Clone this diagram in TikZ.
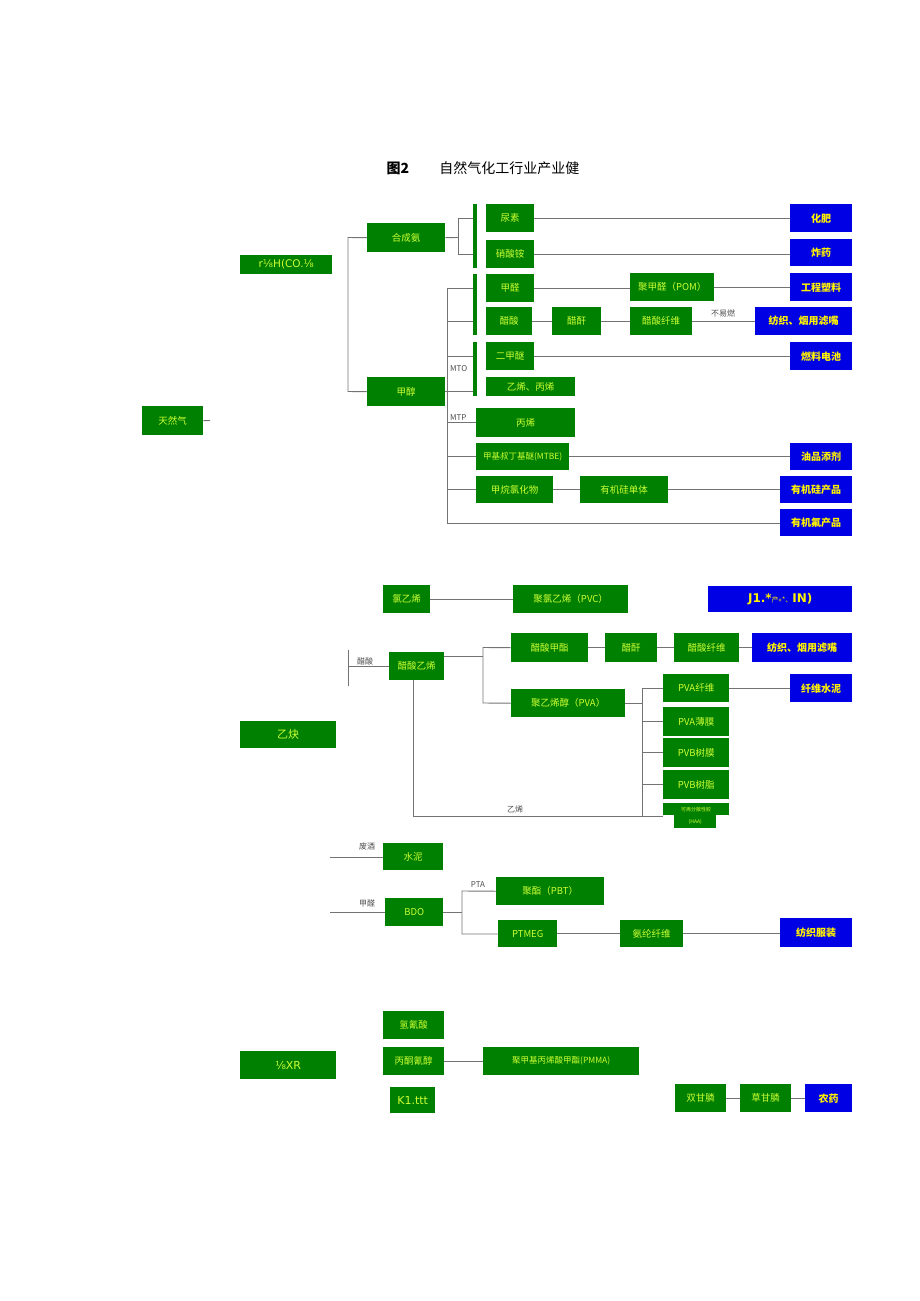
\documentclass[tikz,border=0pt]{standalone}
\usepackage{fontspec}
\setmainfont{Noto Sans CJK SC}
\newfontfamily\lat{DejaVu Sans}
\begin{document}
\begin{tikzpicture}[x=1pt,y=-1pt,
  g/.style={fill=green!50!black,draw=none,inner sep=0pt,text=green!25!yellow!80!white,font=\fontsize{9.5}{10}\selectfont},
  b/.style={fill=blue!90!black,draw=none,inner sep=0pt,text=yellow,font=\bfseries\fontsize{10}{10}\selectfont},
  ln/.style={draw=black!55,line width=0.9pt},
  lab/.style={inner sep=0pt,font=\fontsize{8}{8}\selectfont,text=black!70}]
\useasboundingbox (0,0) rectangle (920,1301);
\newcommand\bx[7]{\node[#1,minimum width={(#5-#3)*1pt},minimum height={(#6-#4)*1pt},anchor=north west] (#2) at (#3,#4) {#7};}
\node[font=\fontsize{14}{14}\selectfont] (title) at (483,168) {\textbf{图2}\hspace{30pt}自然气化工行业产业健};
% top section
\bx{g}{trq}{142}{406}{203}{435}{天然气}
\coordinate (trqe) at (210,420.5);
\draw[ln] (trq.east) -- (trqe);
\bx{g}{syn}{240}{255}{332}{274}{\lat\fontsize{10.5}{10}\selectfont r⅛H(CO.⅛}
\bx{g}{hca}{367}{223}{445}{252}{合成氨}
\bx{g}{jc}{367}{377}{445}{406}{甲醇}
\coordinate (v1a) at (348,237.5); \coordinate (v1b) at (348,391.5);
\draw[ln] (hca.west) -- (v1a) -- (v1b) -- (jc.west);
\bx{g}{bar1}{473}{204}{477}{268}{}
\bx{g}{bar2}{473}{274}{477}{335}{}
\bx{g}{bar3}{473}{342}{477}{396}{}
\bx{g}{ns}{486}{204}{534}{232}{尿素}
\bx{g}{xsa}{486}{240}{534}{268}{硝酸铵}
\coordinate (h1) at (458,237.5); \coordinate (h1a) at (458,218); \coordinate (h1b) at (458,254);
\draw[ln] (hca.east) -- (h1); \draw[ln] (h1a) -- (h1b);
\draw[ln] (h1a) -- (bar1.west|-h1a); \draw[ln] (h1b) -- (bar1.west|-h1b);
\bx{g}{jq}{486}{274}{534}{302}{甲醛}
\bx{g}{cs}{486}{307}{532}{335}{醋酸}
\bx{g}{cg}{552}{307}{601}{335}{醋酐}
\bx{g}{csx}{630}{307}{692}{335}{醋酸纤维}
\bx{g}{pom}{630}{273}{714}{301}{聚甲醛（POM）}
\bx{g}{emy}{486}{342}{534}{370}{二甲醚}
\bx{g}{yx}{486}{377}{575}{396}{乙烯、丙烯}
\bx{g}{bx}{476}{408}{575}{437}{丙烯}
\bx{g}{mtbe}{476}{443}{569}{470}{\fontsize{8.5}{9}\selectfont 甲基叔丁基醚(MTBE)}
\bx{g}{jwl}{476}{476}{553}{503}{甲烷氯化物}
\bx{g}{yjg}{580}{476}{668}{503}{有机硅单体}
\bx{b}{hf}{790}{204}{852}{232}{化肥}
\bx{b}{zy}{790}{239}{852}{266}{炸药}
\bx{b}{gcsl}{790}{273}{852}{301}{工程塑料}
\bx{b}{fz1}{755}{307}{852}{335}{纺织、烟用滤嘴}
\bx{b}{rldc}{790}{342}{852}{370}{燃料电池}
\bx{b}{ypt}{790}{443}{852}{470}{油品添剂}
\bx{b}{gcp}{780}{476}{852}{503}{有机硅产品}
\bx{b}{fcp}{780}{509}{852}{536}{有机氟产品}
\coordinate (v2a) at (447,288); \coordinate (v2b) at (447,523);
\draw[ln] (v2a) -- (v2b) -- (fcp.west|-v2b);
\draw[ln] (jc.east) -- (bar3.west|-jc.east);
\foreach \n in {jq,cs,emy}{\draw[ln] (v2a|-\n.west) -- (bar2.west|-\n.west);}
\draw[ln] (v2a|-bx.west) -- (bx.west);
\draw[ln] (v2a|-mtbe.west) -- (mtbe.west);
\draw[ln] (v2a|-jwl.west) -- (jwl.west);
\node[lab,anchor=west] (mto) at (450,369) {MTO};
\node[lab,anchor=west] (mtp) at (450,418) {MTP};
\draw[ln] (ns.east) -- (hf.west|-ns.east);
\draw[ln] (xsa.east) -- (zy.west|-xsa.east);
\draw[ln] (jq.east) -- (pom.west|-jq.east); \draw[ln] (pom.east) -- (gcsl.west|-pom.east);
\draw[ln] (cs.east) -- (cg.west); \draw[ln] (cg.east) -- (csx.west); \draw[ln] (csx.east) -- (fz1.west);
\node[lab] (bry) at (723,313) {不易燃};
\draw[ln] (emy.east) -- (rldc.west);
\draw[ln] (mtbe.east) -- (ypt.west|-mtbe.east);
\draw[ln] (jwl.east) -- (yjg.west); \draw[ln] (yjg.east) -- (gcp.west);
% middle section
\bx{g}{lyx}{383}{585}{430}{613}{氯乙烯}
\bx{g}{pvc}{513}{585}{628}{613}{聚氯乙烯（PVC）}
\bx{b}{j1}{708}{586}{852}{612}{\lat\bfseries\fontsize{12}{12}\selectfont J1.*\normalfont\fontsize{7}{7}\selectfont 产«*、\lat\bfseries\fontsize{12}{12}\selectfont IN)}
\draw[ln] (lyx.east) -- (pvc.west);
\bx{g}{cyx}{389}{652}{444}{680}{醋酸乙烯}
\coordinate (v3a) at (348,650); \coordinate (v3b) at (348,686);
\draw[ln] (v3a) -- (v3b); \draw[ln] (348,666) -- (cyx.west|-348,666);
\node[lab] (csl) at (365,661) {醋酸};
\bx{g}{csjz}{511}{633}{588}{662}{醋酸甲酯}
\bx{g}{cg2}{605}{633}{657}{662}{醋酐}
\bx{g}{csx2}{674}{633}{739}{662}{醋酸纤维}
\bx{b}{fz2}{752}{633}{852}{662}{纺织、烟用滤嘴}
\bx{g}{pva}{511}{689}{625}{717}{聚乙烯醇（PVA）}
\coordinate (v4a) at (483,647.5); \coordinate (v4b) at (483,703);
\draw[ln] (cyx.east|-483,656) -- (483,656);
\draw[ln] (csjz.west) -- (v4a) -- (v4b) -- (pva.west);
\draw[ln] (csjz.east) -- (cg2.west); \draw[ln] (cg2.east) -- (csx2.west); \draw[ln] (csx2.east) -- (fz2.west);
\bx{g}{pvax}{663}{674}{729}{702}{PVA纤维}
\bx{g}{pvab}{663}{707}{729}{736}{PVA薄膜}
\bx{g}{pvbm}{663}{738}{729}{767}{PVB树膜}
\bx{g}{pvbz}{663}{770}{729}{799}{PVB树脂}
\bx{g}{kz}{663}{803}{729}{815}{\fontsize{5}{5}\selectfont 可再分散性胶}
\bx{g}{kz2}{674}{815}{716}{828}{\fontsize{5}{5}\selectfont (HAA)}
\bx{b}{xwsn}{790}{674}{852}{702}{纤维水泥}
\draw[ln] (pvax.east) -- (xwsn.west);
\coordinate (v5a) at (642,688); \coordinate (v5b) at (642,816);
\draw[ln] (pva.east) -- (v5a|-pva.east); \draw[ln] (v5a) -- (v5b);
\foreach \n in {pvax,pvab,pvbm,pvbz}{\draw[ln] (v5a|-\n.west) -- (\n.west);}
\coordinate (v6) at (413,816);
\draw[ln] (cyx.south-|v6) -- (v6) -- (kz.west|-v6);
\node[lab] (yx2) at (515,809) {乙烯};
\bx{g}{yq}{240}{721}{336}{748}{\fontsize{11}{11}\selectfont 乙炔}
\bx{g}{sn}{383}{843}{443}{870}{水泥}
\coordinate (fj) at (330,857);
\draw[ln] (fj) -- (sn.west|-fj);
\node[lab] (fjl) at (367,846) {废酒};
\bx{g}{bdo}{385}{898}{443}{926}{BDO}
\coordinate (jq2) at (330,912);
\draw[ln] (jq2) -- (bdo.west|-jq2);
\node[lab] (jql) at (367,903) {甲醛};
\bx{g}{pbt}{496}{877}{604}{905}{聚酯（PBT）}
\bx{g}{ptmeg}{498}{920}{557}{947}{PTMEG}
\bx{g}{alx}{620}{920}{683}{947}{氨纶纤维}
\bx{b}{fzfz}{780}{918}{852}{947}{纺织服装}
\coordinate (v7a) at (462,891); \coordinate (v7b) at (462,934);
\draw[ln] (bdo.east) -- (v7a|-bdo.east);
\draw[ln] (pbt.west) -- (v7a) -- (v7b) -- (ptmeg.west|-v7b);
\node[lab] (pta) at (478,885) {PTA};
\draw[ln] (ptmeg.east) -- (alx.west); \draw[ln] (alx.east) -- (fzfz.west|-alx.east);
% bottom
\bx{g}{hqs}{383}{1011}{444}{1039}{氢氰酸}
\bx{g}{btq}{383}{1047}{444}{1075}{丙酮氰醇}
\bx{g}{pmma}{483}{1047}{639}{1075}{\fontsize{8.5}{9}\selectfont 聚甲基丙烯酸甲酯(PMMA)}
\draw[ln] (btq.east) -- (pmma.west);
\bx{g}{k1}{390}{1087}{435}{1113}{\lat\fontsize{11}{11}\selectfont K1.ttt}
\bx{g}{xr}{240}{1051}{336}{1079}{\lat\fontsize{11}{11}\selectfont ⅛XR}
\bx{g}{sgl}{675}{1084}{726}{1112}{双甘膦}
\bx{g}{cgl}{740}{1084}{791}{1112}{草甘膦}
\bx{b}{ny}{805}{1084}{852}{1112}{农药}
\draw[ln] (sgl.east) -- (cgl.west); \draw[ln] (cgl.east) -- (ny.west);
\end{tikzpicture}
\end{document}
